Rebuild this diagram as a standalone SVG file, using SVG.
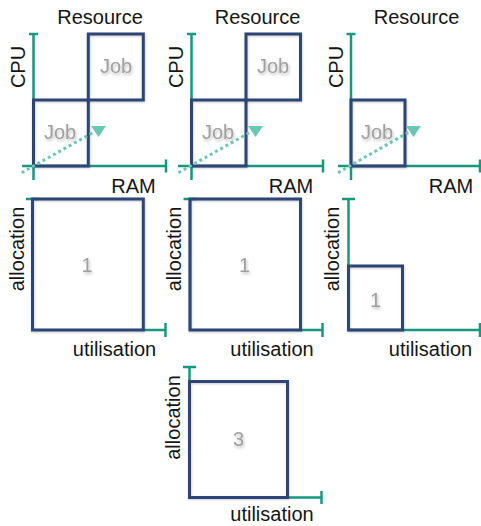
<svg xmlns="http://www.w3.org/2000/svg" width="481" height="526" viewBox="0 0 481 526">
<defs>
<style>
.lbl{font-family:"Liberation Sans",Arial,sans-serif;font-size:20px;fill:#151515}
.job{font-family:"Liberation Sans",Arial,sans-serif;font-size:20px;fill:#a0a0a0;filter:url(#ts)}
.box{fill:none;stroke:#2f4577;stroke-width:3;filter:url(#bs)}
.ax{fill:none;stroke:#17987e;stroke-width:2.5}
.dot{fill:none;stroke:#6cc6b4;stroke-width:3;stroke-dasharray:3 3}
.head{fill:#6cc6b4}
</style>
<filter id="ts" x="-20%" y="-20%" width="150%" height="160%"><feDropShadow dx="1" dy="2" stdDeviation="1.5" flood-color="#000" flood-opacity="0.25"/></filter>
<filter id="bs" x="-10%" y="-10%" width="120%" height="120%"><feDropShadow dx="0.5" dy="1" stdDeviation="0.8" flood-color="#000" flood-opacity="0.2"/></filter>
</defs>

<!-- Panel 1 -->
<g id="panel1">
<text class="lbl" x="100" y="24" text-anchor="middle">Resource</text>
<text class="lbl" transform="translate(24.5,67) rotate(-90)" text-anchor="middle">CPU</text>
<text class="lbl" x="133.5" y="193" text-anchor="middle">RAM</text>
<path class="ax" d="M33.5,34V180M29,34H38M22,166H166M166,159.5V172.5"/>
<g id="p1-job1"><rect class="box" x="33.5" y="100" width="54.8" height="66"/><text class="job" x="44" y="139">Job</text></g>
<g id="p1-job2"><rect class="box" x="88.3" y="34" width="55" height="66"/><text class="job" x="100" y="73">Job</text></g>
</g>

<!-- Panel 2 -->
<g id="panel2">
<text class="lbl" x="257.5" y="24" text-anchor="middle">Resource</text>
<text class="lbl" transform="translate(182.5,67) rotate(-90)" text-anchor="middle">CPU</text>
<text class="lbl" x="291" y="193" text-anchor="middle">RAM</text>
<path class="ax" d="M191.5,34V180M187,34H196M178,166H323M323,159.5V172.5"/>
<g id="p2-job1"><rect class="box" x="191.5" y="100" width="54.5" height="66"/><text class="job" x="202" y="139">Job</text></g>
<g id="p2-job2"><rect class="box" x="246" y="34" width="54.5" height="66"/><text class="job" x="257" y="73">Job</text></g>
</g>

<!-- Panel 3 -->
<g id="panel3">
<text class="lbl" x="416.5" y="24" text-anchor="middle">Resource</text>
<text class="lbl" transform="translate(342.5,67) rotate(-90)" text-anchor="middle">CPU</text>
<text class="lbl" x="451" y="193" text-anchor="middle">RAM</text>
<path class="ax" d="M351,34V180M346.5,34H355.5M338,166H481M480,159.5V172.5"/>
<g id="p3-job1"><rect class="box" x="351" y="100" width="54" height="66"/><text class="job" x="361" y="139">Job</text></g>
</g>

<!-- Panel 4 -->
<g id="panel4">
<path class="ax" d="M32.5,199V330M26,199H39M143,330H165.5M165.5,323V337"/>
<g id="p4-box"><rect class="box" x="32.5" y="199" width="110.8" height="131"/><text class="job" x="87" y="272" text-anchor="middle">1</text></g>
<text class="lbl" transform="translate(23.5,249) rotate(-90)" text-anchor="middle">allocation</text>
<text class="lbl" x="114.5" y="356" text-anchor="middle">utilisation</text>
</g>

<!-- Panel 5 -->
<g id="panel5">
<path class="ax" d="M190,199V330M183.5,199H196.5M300.5,330H322.5M322.5,323V337"/>
<g id="p5-box"><rect class="box" x="190" y="199" width="110.5" height="131"/><text class="job" x="244.5" y="272" text-anchor="middle">1</text></g>
<text class="lbl" transform="translate(181,249) rotate(-90)" text-anchor="middle">allocation</text>
<text class="lbl" x="272" y="356" text-anchor="middle">utilisation</text>
</g>

<!-- Panel 6 -->
<g id="panel6">
<path class="ax" d="M348.5,199V330M342,199H355M348.5,330H481M480,323V337"/>
<g id="p6-box"><rect class="box" x="348.5" y="266" width="54" height="64"/><text class="job" x="375.5" y="307" text-anchor="middle">1</text></g>
<text class="lbl" transform="translate(339,249) rotate(-90)" text-anchor="middle">allocation</text>
<text class="lbl" x="430.5" y="356" text-anchor="middle">utilisation</text>
</g>

<!-- Panel 7 -->
<g id="panel7">
<path class="ax" d="M189.5,367V497.5M183,367H196M287.5,497.5H321.5M321.5,491V504"/>
<g id="p7-box"><rect class="box" x="189.5" y="381.5" width="98" height="116"/><text class="job" x="238.5" y="445.5" text-anchor="middle">3</text></g>
<text class="lbl" transform="translate(180,417.5) rotate(-90)" text-anchor="middle">allocation</text>
<text class="lbl" x="272" y="521" text-anchor="middle">utilisation</text>
</g>

<!-- Connectors -->
<g id="connectors">
<path class="dot" d="M21.7,172.7L94,132"/>
<polygon class="head" points="91,126 106,126 98.5,137"/>
<path class="dot" d="M178.5,172.7L250.5,132"/>
<polygon class="head" points="248,126 263,126 255.5,137"/>
<path class="dot" d="M338,172.7L409,132"/>
<polygon class="head" points="406,126 421,126 413.5,137"/>
</g>
</svg>
